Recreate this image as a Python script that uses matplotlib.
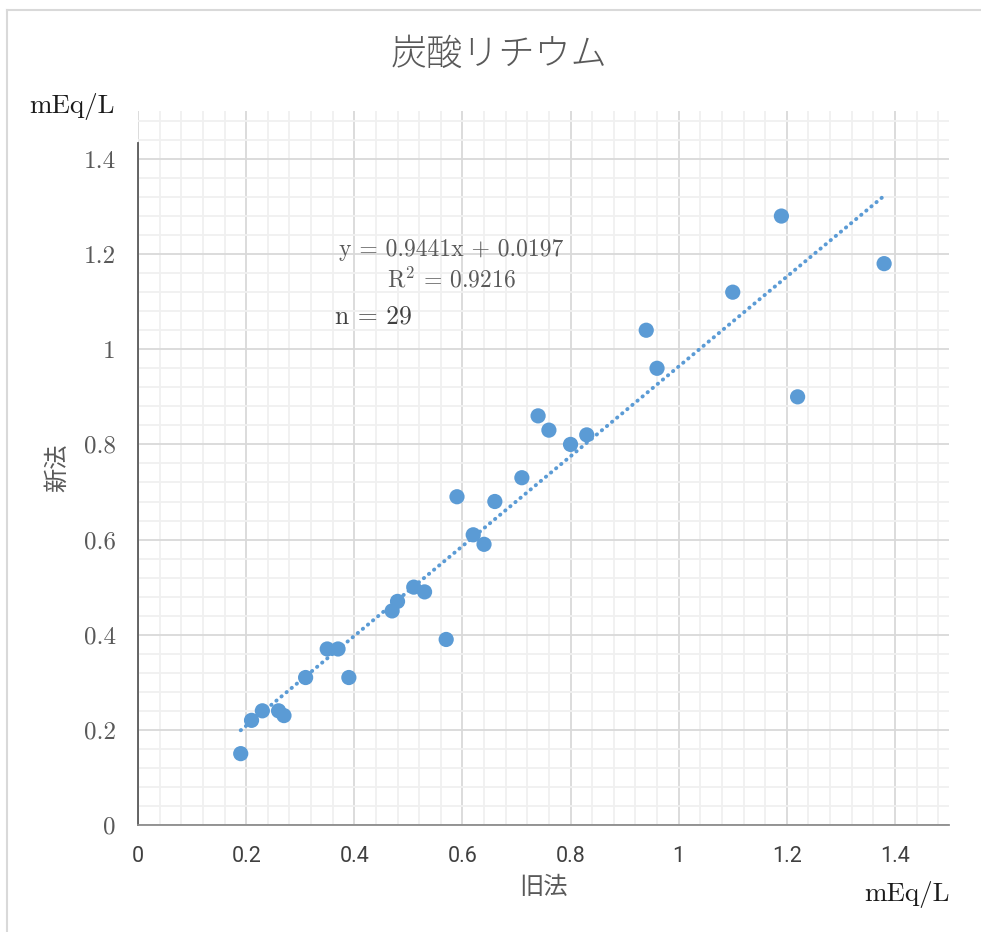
import matplotlib
matplotlib.use("Agg")
import matplotlib.pyplot as plt
from matplotlib.lines import Line2D
from matplotlib.ticker import MultipleLocator
import numpy as np

plt.rcParams['font.family'] = ['Noto Sans CJK JP', 'DejaVu Sans']
plt.rcParams['mathtext.fontset'] = 'cm'

# data (old method vs new method, mEq/L)
old_method = [0.19, 0.21, 0.23, 0.26, 0.27, 0.31, 0.35, 0.37, 0.39, 0.47,
              0.48, 0.51, 0.53, 0.57, 0.59, 0.62, 0.64, 0.66, 0.71, 0.74,
              0.76, 0.80, 0.83, 0.94, 0.96, 1.10, 1.19, 1.22, 1.38]
new_method = [0.15, 0.22, 0.24, 0.24, 0.23, 0.31, 0.37, 0.37, 0.31, 0.45,
              0.47, 0.50, 0.49, 0.39, 0.69, 0.61, 0.59, 0.68, 0.73, 0.86,
              0.83, 0.80, 0.82, 1.04, 0.96, 1.12, 1.28, 0.90, 1.18]

# trend line as given on the chart
slope = 0.9441
intercept = 0.0197
r_squared = 0.9216

title = "炭酸リチウム"
x_label = "旧法"
y_label = "新法"
unit = "mEq/L"

blue = "#5B9BD5"
gray_text = "#595959"
serif = ['cmr10', 'DejaVu Serif']

fig = plt.figure(figsize=(9.81, 9.32), dpi=100)
ax = fig.add_axes([138 / 981, 107 / 932, 811 / 981, 713.6 / 932])

ax.set_xlim(0, 1.5)
ax.set_ylim(0, 1.5)
ax.xaxis.set_major_locator(MultipleLocator(0.2))
ax.xaxis.set_minor_locator(MultipleLocator(0.04))
ax.yaxis.set_major_locator(MultipleLocator(0.2))
ax.yaxis.set_minor_locator(MultipleLocator(0.04))

ax.grid(which="minor", color="#f0f0f0", linewidth=1.3, zorder=0)
ax.grid(which="major", color="#d9d9d9", linewidth=1.3, zorder=0)
ax.set_axisbelow(True)

# trend line (dotted)
tx = np.array([min(old_method), max(old_method)])
ty = slope * tx + intercept
ax.plot(tx, ty, color=blue, linewidth=2.8, linestyle=(0, (0.1, 1.6)),
        dash_capstyle="round", zorder=3)

ax.scatter(old_method, new_method, s=120, color=blue, edgecolors="none", zorder=4)

for side in ["top", "right"]:
    ax.spines[side].set_visible(False)
ax.spines["left"].set_color("#595959")
ax.spines["left"].set_linewidth(1.3)
ax.spines["left"].set_bounds(0, 1.434)
ax.spines["bottom"].set_color("#8c8c8c")
ax.spines["bottom"].set_linewidth(1.3)

xt = [0, 0.2, 0.4, 0.6, 0.8, 1, 1.2, 1.4]
yt = [0, 0.2, 0.4, 0.6, 0.8, 1, 1.2, 1.4]
ax.set_xticks(xt)
ax.set_xticklabels([f"{v:g}" for v in xt], family="Roboto", fontsize=15.5, color="#404040")
ax.set_yticks(yt)
ax.set_yticklabels([f"{v:g}" for v in yt], family=serif, fontsize=18, color=gray_text)
ax.tick_params(which="both", length=0)
ax.tick_params(axis="x", pad=15)
ax.tick_params(axis="y", pad=16)

# labels
fig.text(499 / 981, 1 - 55 / 932, title, ha="center", va="center",
         fontsize=26, color=gray_text, fontweight="light")
fig.text(57 / 981, 1 - 468 / 932, y_label, ha="center", va="center",
         rotation=90, fontsize=17.5, color=gray_text)
fig.text(543 / 981, 1 - 887 / 932, x_label, ha="center", va="center",
         fontsize=17.5, color=gray_text)
fig.text(115 / 981, 1 - 106 / 932, unit, ha="right", va="center",
         family=serif, fontsize=19.5, color="#1a1a1a")
fig.text(950 / 981, 1 - 895 / 932, unit, ha="right", va="center",
         family=serif, fontsize=19.5, color="#1a1a1a")

# equation box
fig.text(451 / 981, 1 - 250 / 932, f"y = {slope}x + {intercept}", ha="center",
         va="center", family=serif, fontsize=17, color=gray_text)
fig.text(451 / 981, 1 - 280 / 932, f"R$^{{2}}$ = {r_squared}", ha="center",
         va="center", family=serif, fontsize=17, color=gray_text)
fig.text(335 / 981, 1 - 317 / 932, f"n = {len(old_method)}", ha="left",
         va="center", family=serif, fontsize=18.5, color="#404040")

# chart border
fig.add_artist(Line2D([7 / 981, 1], [1 - 10 / 932, 1 - 10 / 932], color="#d9d9d9",
                      linewidth=1.5, transform=fig.transFigure))
fig.add_artist(Line2D([7 / 981, 7 / 981], [0, 1 - 10 / 932], color="#d9d9d9",
                      linewidth=1.5, transform=fig.transFigure))

fig.savefig("out.png", dpi=100)
